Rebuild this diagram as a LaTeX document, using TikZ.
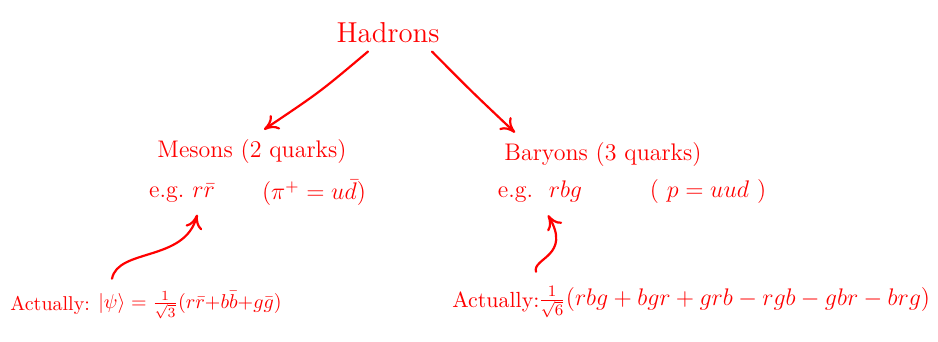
\documentclass[tikz,border=0pt,12pt]{standalone}
\usetikzlibrary{arrows.meta}
\begin{document}
\begin{tikzpicture}[
        x=0.5pt, y=-0.5pt,
        txt/.style = {text=red, inner sep=1pt},
        arr/.style = {draw=red, line width=1.1pt, line cap=round, -{To[length=2.5mm,width=3mm]}},
        every node/.append style = {txt}
    ]
        \useasboundingbox (0,0) rectangle (938,342);
        \node (hadrons) at (388,33) {\large Hadrons};
        \node (mesons) at (252,152) {Mesons (2 quarks)};
        \node (egm) at (182,193) {e.g.\ $r\bar r$};
        \node (pion) at (314,193) {($\pi^+ = u\bar d$)};
        \node (baryons) at (603,155) {Baryons (3 quarks)};
        \node (egb) at (540,192) {e.g.\ \ $rbg$};
        \node (proton) at (708,192) {( $p = uud$ )};
        \node[anchor=west] (actm) at (8,305) {\footnotesize Actually:};
        \node[anchor=west] (psim) at (96,305) {\footnotesize $|\psi\rangle = \frac{1}{\sqrt3}(r\bar r{+}b\bar b{+}g\bar g)$};
        \node[anchor=west] (actb) at (450,302) {\small Actually:};
        \node[anchor=west] (psib) at (536,302) {$\frac{1}{\sqrt6}(rbg + bgr + grb - rgb - gbr - brg)$};
        % arrows
        \draw[arr] ([xshift=-10pt,yshift=-3pt]hadrons.south) .. controls (320,92) .. ([xshift=6pt,yshift=4pt]mesons.north);
        \draw[arr] ([xshift=22pt,yshift=-3pt]hadrons.south) .. controls (470,90) .. ([xshift=-44pt,yshift=4pt]baryons.north);
        \draw[arr] ([xshift=8pt,yshift=5pt]psim.north west) .. controls (118,248) and (185,262) .. ([xshift=-10pt,yshift=-5pt]egm.south east);
        \draw[arr] ([xshift=0pt,yshift=6pt]psib.north west) .. controls (532,258) and (572,256) .. ([xshift=4pt,yshift=-5pt]egb.south);
    \end{tikzpicture}
\end{document}
